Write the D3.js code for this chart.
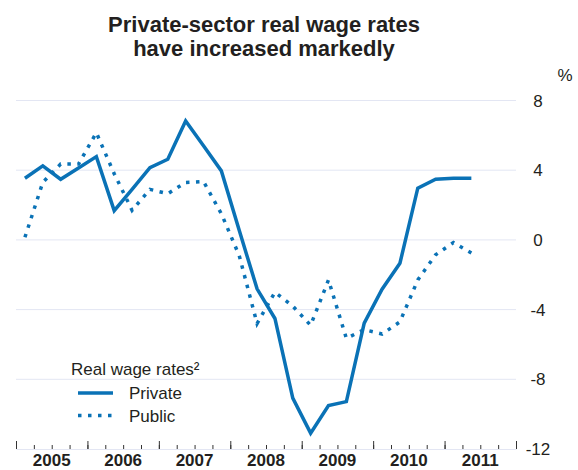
<!DOCTYPE html>
<html lang="en">
<head>
<meta charset="UTF-8">
<title>Private-sector real wage rates</title>
<script src="https://d3js.org/d3.v7.min.js"></script>
<style>
  body { margin: 0; background: #fff; font-family: "Liberation Sans", Arial, sans-serif; }
  svg text { fill: #231f20; }
  .grid line { stroke: #e3e6f3; stroke-width: 1; }
  .line { fill: none; stroke: #0a72b6; stroke-width: 3.5; }
  .public { stroke-dasharray: 3.5 6.5; }
  .xaxis .domain { stroke: #e3e6f3; }
  .xaxis .tick line { stroke: #333; }
</style>
</head>
<body>
<div id="chart"></div>
<script>
// quarterly observations, plotted at mid-quarter
const quarters = ["2005Q1","2005Q2","2005Q3","2005Q4","2006Q1","2006Q2","2006Q3","2006Q4",
                  "2007Q1","2007Q2","2007Q3","2007Q4","2008Q1","2008Q2","2008Q3","2008Q4",
                  "2009Q1","2009Q2","2009Q3","2009Q4","2010Q1","2010Q2","2010Q3","2010Q4",
                  "2011Q1","2011Q2"];
const privateRates = [3.54, 4.25, 3.48, 4.13, 4.78, 1.68, 2.9, 4.15, 4.63, 6.83, 5.4, 3.96, 0.55,
                      -2.81, -4.51, -9.08, -11.09, -9.5, -9.28, -4.78, -2.83, -1.34, 2.97, 3.48, 3.54, 3.54];
const publicRates = [0.15, 3.3, 4.35, 4.35, 6.15, 3.8, 1.7, 2.9, 2.65, 3.3, 3.35, 1.5, -0.9,
                     -4.8, -3.0, -3.8, -4.9, -2.3, -5.65, -5.15, -5.4, -4.7, -2.3, -0.85, -0.15, -0.75];
const years = [2005, 2006, 2007, 2008, 2009, 2010, 2011];
const yTicks = [8, 4, 0, -4, -8, -12];
const seriesNames = ["Private", "Public"];

const width = 578, height = 470;

const svg = d3.select("#chart").append("svg")
    .attr("width", width)
    .attr("height", height);

const x = d3.scaleLinear().domain([2005, 2012]).range([16, 516]);
const y = d3.scaleLinear().domain([-12, 8]).range([449, 100.5]);

function qPos(label) {
    const yr = +label.slice(0, 4), q = +label.slice(5);
    return yr + (q - 0.5) / 4;
}

// title
svg.append("text")
    .attr("x", 264).attr("y", 32)
    .attr("text-anchor", "middle")
    .style("font-size", "22px").style("font-weight", "bold")
    .selectAll("tspan")
    .data(["Private-sector real wage rates", "have increased markedly"])
    .join("tspan")
    .attr("x", 264)
    .attr("dy", (d, i) => i === 0 ? 0 : 24)
    .text(d => d);

// gridlines
svg.append("g").attr("class", "grid")
    .selectAll("line")
    .data(yTicks.filter(d => d !== -12))
    .join("line")
    .attr("x1", x(2005)).attr("x2", x(2012))
    .attr("y1", d => y(d)).attr("y2", d => y(d));

// y tick labels on the right
svg.append("g")
    .selectAll("text")
    .data(yTicks)
    .join("text")
    .attr("x", 538)
    .attr("y", d => y(d))
    .attr("dy", "0.36em")
    .attr("text-anchor", "middle")
    .style("font-size", "17px")
    .text(d => String(d));

svg.append("text")
    .attr("x", 565).attr("y", 81)
    .attr("text-anchor", "middle")
    .style("font-size", "17px")
    .text("%");

// x axis: minor quarter ticks, major year ticks
const xAxis = svg.append("g").attr("class", "xaxis")
    .attr("transform", `translate(0, ${y(-12)})`);

xAxis.call(d3.axisBottom(x)
    .tickValues(d3.range(2005, 2012.01, 0.25))
    .tickSizeInner(-4).tickSizeOuter(0)
    .tickFormat(""));

xAxis.append("g")
    .call(d3.axisBottom(x)
        .tickValues(d3.range(2005, 2013, 1))
        .tickSizeInner(-8).tickSizeOuter(0)
        .tickFormat(""))
    .call(g => g.select(".domain").remove());

svg.append("g")
    .selectAll("text")
    .data(years)
    .join("text")
    .attr("x", d => x(d + 0.5))
    .attr("y", 466)
    .attr("text-anchor", "middle")
    .style("font-size", "17px").style("font-weight", "bold")
    .text(d => d);

// lines
const line = d3.line()
    .x((d, i) => x(qPos(quarters[i])))
    .y(d => y(d));

svg.append("path")
    .datum(privateRates)
    .attr("class", "line private")
    .attr("d", line);

svg.append("path")
    .datum(publicRates)
    .attr("class", "line public")
    .attr("d", line);

// legend
const legend = svg.append("g");
legend.append("text")
    .attr("x", 71).attr("y", 375)
    .style("font-size", "17px")
    .text("Real wage rates²");

const items = legend.selectAll("g.item")
    .data(seriesNames)
    .join("g")
    .attr("class", "item")
    .attr("transform", (d, i) => `translate(0, ${393 + i * 22.5})`);

items.append("line")
    .attr("class", d => "line " + d.toLowerCase())
    .attr("x1", 78).attr("x2", 113)
    .attr("y1", 0).attr("y2", 0);

items.append("text")
    .attr("x", 129).attr("y", 6)
    .style("font-size", "17px")
    .text(d => d);
</script>
</body>
</html>
